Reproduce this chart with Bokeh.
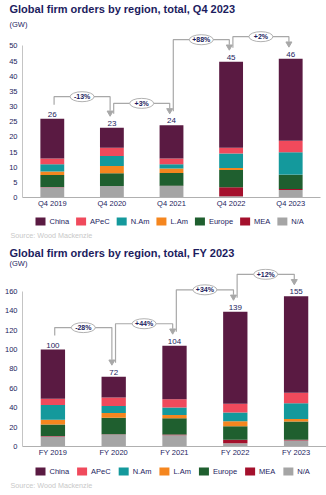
from bokeh.plotting import figure
from bokeh.models import Range1d, FactorRange, FixedTicker, ColumnDataSource, Plot
from bokeh.layouts import column
from bokeh.embed import file_html
from bokeh.resources import INLINE
from bokeh.core.properties import value

# ---------------- data ----------------
regions = ["China", "APeC", "N.Am", "L.Am", "Europe", "MEA", "N/A"]
region_keys = ["china", "apec", "nam", "lam", "europe", "mea", "na"]
region_colors = ["#5a1a42", "#f04a5c", "#14999c", "#f5861f", "#1f5f2f", "#a4102c", "#a5a5a5"]

q4_periods = ["Q4 2019", "Q4 2020", "Q4 2021", "Q4 2022", "Q4 2023"]
q4_china = [13.1, 6.6, 10.9, 28.4, 27.1]
q4_apec = [1.9, 2.7, 1.9, 1.9, 3.8]
q4_nam = [2.4, 3.3, 1.4, 4.8, 7.4]
q4_lam = [1.2, 2.4, 1.5, 0.6, 0.1]
q4_europe = [3.9, 4.2, 4.2, 5.7, 4.6]
q4_mea = [0.1, 0.0, 0.1, 3.0, 0.3]
q4_na = [3.4, 3.8, 3.8, 0.4, 2.5]
q4_labels = ["26", "23", "24", "45", "46"]
q4_changes = ["-13%", "+3%", "+88%", "+2%"]

fy_periods = ["FY 2019", "FY 2020", "FY 2021", "FY 2022", "FY 2023"]
fy_china = [50.6, 21.5, 55.3, 95.0, 99.4]
fy_apec = [6.5, 8.6, 8.5, 9.0, 11.0]
fy_nam = [15.4, 7.2, 7.6, 8.9, 16.1]
fy_lam = [4.8, 5.1, 3.4, 5.2, 2.8]
fy_europe = [11.9, 17.0, 16.9, 14.0, 18.8]
fy_mea = [0.5, 0.2, 0.7, 3.5, 0.7]
fy_na = [10.3, 12.4, 11.6, 3.4, 6.2]
fy_labels = ["100", "72", "104", "139", "155"]
fy_changes = ["-28%", "+44%", "+34%", "+12%"]

NAVY = "#1c1c5e"
GREY = "#a8a8a8"
FONT = value("Liberation Sans")
W = 326
HAS_FRAME_ALIGN = "frame_align" in Plot.properties()

# approximate Arial / Liberation Sans advance widths (em) for legend layout
CHAR_W = {"C": .722, "h": .556, "i": .222, "n": .556, "a": .556, "A": .667, "P": .667,
          "e": .556, "N": .722, ".": .278, "m": .833, "L": .556, "E": .667, "u": .556,
          "r": .333, "o": .556, "p": .556, "M": .833, "/": .278}


def text_w(s, size):
    return sum(CHAR_W.get(ch, .556) for ch in s) * size


def unalign(p):
    if HAS_FRAME_ALIGN:
        p.frame_align = False


def blank(height):
    p = figure(width=W, height=height, x_range=Range1d(0, W), y_range=Range1d(height, 0),
               x_axis_type=None, y_axis_type=None, output_backend="svg",
               toolbar_location=None, min_border=0)
    p.outline_line_color = None
    p.grid.visible = False
    unalign(p)
    return p


def header(title, height, title_y, gw_y):
    p = blank(height)
    p.text(x=[9], y=[title_y], text=[title], text_font=FONT, text_font_size="11px",
           text_font_style="bold", text_color=NAVY, text_baseline="middle")
    p.text(x=[9], y=[gw_y], text=["(GW)"], text_font=FONT, text_font_size="7.5px",
           text_color=NAVY, text_baseline="middle")
    return p


def footer(height, legend_y, source_y, spacing):
    p = blank(height)
    fs = 7.5
    sx, tx = [], []
    x = 35.0
    for r in regions:
        sx.append(x + 5)
        tx.append(x + 14)
        x += 14 + text_w(r, fs) + spacing
    ly = [legend_y] * len(regions)
    p.rect(x=sx, y=ly, width=10, height=8, fill_color=region_colors, line_color=None)
    p.text(x=tx, y=ly, text=regions, text_font=FONT, text_font_size=f"{fs}px",
           text_color=NAVY, text_baseline="middle")
    p.text(x=[10], y=[source_y], text=["Source: Wood Mackenzie"], text_font=FONT,
           text_font_size="7.2px", text_color="#c8c8c8", text_baseline="middle")
    return p


def chart(periods, series, labels, changes, tick_max, tick_step, y_end, height,
          b_bottom, b_right):
    frame_h = height - b_bottom
    ppu = frame_h / y_end  # pixels per unit

    p = figure(width=W, height=height, x_range=FactorRange(*periods),
               y_range=Range1d(0, y_end), output_backend="svg", title=None,
               toolbar_location=None, min_border_left=22, min_border_right=b_right,
               min_border_top=0, min_border_bottom=b_bottom)
    p.outline_line_color = None
    p.xgrid.visible = False
    p.ygrid.visible = False
    unalign(p)

    data = {"period": periods}
    for k in region_keys:
        data[k] = series[k]
    src = ColumnDataSource(data)

    stack_keys = list(reversed(region_keys))
    stack_colors = list(reversed(region_colors))
    p.vbar_stack(stack_keys, x="period", width=0.4, color=stack_colors,
                 line_color=None, source=src)

    totals = [sum(series[k][i] for k in region_keys) for i in range(len(periods))]

    # value labels
    p.text(x=periods, y=totals, text=labels, text_align="center", text_baseline="bottom",
           y_offset=-2, text_font=FONT, text_font_size="8px", text_color=NAVY)

    # change connectors
    xs, ys, mx, lv, ex, tip = [], [], [], [], [], []
    d = 0.03
    for i in range(len(changes)):
        x0 = i + 0.5 + d
        x1 = i + 1.5 - d
        s = totals[i] + 14 / ppu
        t = totals[i + 1] + 15 / ppu
        lev = max(totals[i], totals[i + 1]) + 22 / ppu
        xs.append([x0, x0, x1, x1])
        ys.append([s, lev, lev, t + 2 / ppu])
        mx.append((x0 + x1) / 2)
        lv.append(lev)
        ex.append(x1)
        tip.append(t)
    p.multi_line(xs=xs, ys=ys, line_color=GREY, line_width=1.2)
    p.scatter(x=ex, y=tip, marker="inverted_triangle", size=6, fill_color=GREY,
              line_color=GREY)
    p.ellipse(x=mx, y=lv, width=24, height=10, width_units="screen",
              height_units="screen", fill_color="white", line_color=GREY, line_width=0.9)
    p.text(x=mx, y=lv, text=changes, text_align="center", text_baseline="middle",
           text_font=FONT, text_font_size="7px", text_font_style="bold", text_color=NAVY)

    # axes
    p.yaxis.ticker = FixedTicker(ticks=list(range(0, tick_max + 1, tick_step)))
    p.yaxis.bounds = (0, tick_max)
    p.yaxis.axis_line_color = "#c4c4c4"
    p.yaxis.major_tick_line_color = None
    p.yaxis.minor_tick_line_color = None
    p.yaxis.major_tick_out = 0
    p.yaxis.major_label_standoff = 5
    p.yaxis.major_label_text_font = "Liberation Sans"
    p.yaxis.major_label_text_font_size = "7.5px"
    p.yaxis.major_label_text_color = NAVY

    p.xaxis.axis_line_color = "#b0b0b0"
    p.xaxis.major_tick_line_color = None
    p.xaxis.minor_tick_line_color = None
    p.xaxis.major_tick_out = 0
    p.xaxis.major_label_standoff = 1
    p.xaxis.major_label_text_font = "Liberation Sans"
    p.xaxis.major_label_text_font_size = "7.5px"
    p.xaxis.major_label_text_color = NAVY
    return p


q4_series = dict(china=q4_china, apec=q4_apec, nam=q4_nam, lam=q4_lam,
                 europe=q4_europe, mea=q4_mea, na=q4_na)
fy_series = dict(china=fy_china, apec=fy_apec, nam=fy_nam, lam=fy_lam,
                 europe=fy_europe, mea=fy_mea, na=fy_na)

h1 = header("Global firm orders by region, total, Q4 2023", 30, 8, 24)
c1 = chart(q4_periods, q4_series, q4_labels, q4_changes, 50, 5, 55.1, 182, 15, 6)
f1 = footer(33, 9, 23, 7)

h2 = header("Global firm orders by region, total, FY 2023", 23, 7, 18)
c2 = chart(fy_periods, fy_series, fy_labels, fy_changes, 160, 20, 183.7, 193, 15, 0)
f2 = footer(34, 10, 24, 8)

layout = column(h1, c1, f1, h2, c2, f2, spacing=0)
open("out.html", "w").write(file_html(layout, INLINE))
